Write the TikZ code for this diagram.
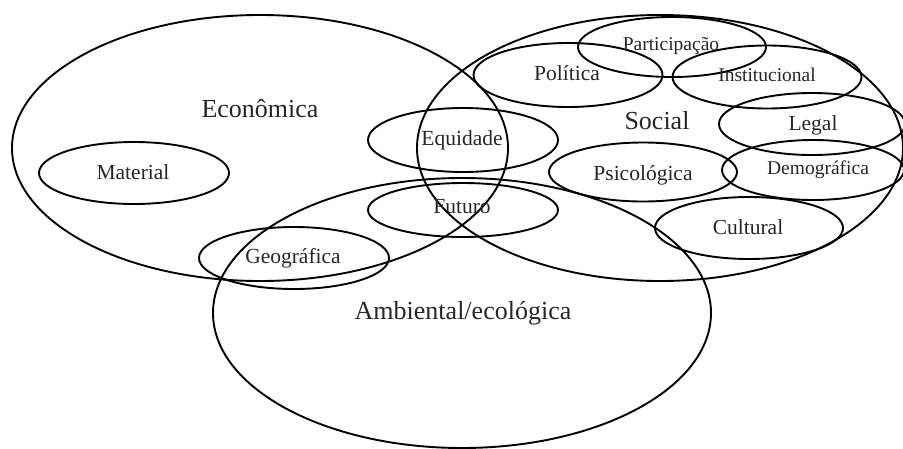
\documentclass[tikz,border=0pt]{standalone}
\usepackage{fontspec}
\setmainfont{Liberation Serif}
\usetikzlibrary{shapes.geometric}
\tikzset{
  ring/.style={draw=black, line width=1.9pt, ellipse, inner sep=0pt, fill=none},
  lbl/.style={inner sep=0pt, text height=0.66em, text depth=0pt, anchor=center, text=black!85, yshift=-4.5pt},
  bigtxt/.style={lbl, font=\fontsize{26}{28}\selectfont},
  midtxt/.style={lbl, font=\fontsize{21.5}{24}\selectfont},
  smalltxt/.style={lbl, font=\fontsize{19.5}{22}\selectfont},
}
\begin{document}
\begin{tikzpicture}[x=1pt,y=-1pt]
\useasboundingbox (0,0) rectangle (903,448);
% big ellipses
\node[ring, minimum width=496pt, minimum height=266pt] (econ) at (260,148) {};
\node[ring, minimum width=486pt, minimum height=266pt] (social) at (660,148) {};
\node[ring, minimum width=498pt, minimum height=270pt] (amb) at (462,313) {};
% small ellipses
\node[ring, minimum width=190pt, minimum height=62pt] (material) at (134,173) {};
\node[ring, minimum width=190pt, minimum height=64pt] (equidade) at (463,140) {};
\node[ring, minimum width=190pt, minimum height=54pt] (futuro) at (463,210) {};
\node[ring, minimum width=190pt, minimum height=62pt] (geografica) at (294,258) {};
\node[ring, minimum width=188pt, minimum height=60pt] (participacao) at (672,47) {};
\node[ring, minimum width=189pt, minimum height=64pt] (politica) at (568,75) {};
\node[ring, minimum width=189pt, minimum height=63pt] (institucional) at (767,77) {};
\node[ring, minimum width=186pt, minimum height=62pt] (legal) at (812,124) {};
\node[ring, minimum width=188pt, minimum height=59pt] (psicologica) at (643,172) {};
\node[ring, minimum width=182pt, minimum height=60pt] (demografica) at (813,170) {};
\node[ring, minimum width=188pt, minimum height=62pt] (cultural) at (749,228) {};
% labels
\node[bigtxt] (teconomica) at (260,110) {Econômica};
\node[bigtxt] (tsocial) at (657,122) {Social};
\node[bigtxt] (tambiental) at (463,312) {Ambiental/ecológica};
\node[midtxt] (tmaterial) at (133,172) {Material};
\node[midtxt] (tequidade) at (462,138) {Equidade};
\node[midtxt] (tfuturo) at (462,206) {Futuro};
\node[midtxt] (tgeografica) at (293,256) {Geográfica};
\node[smalltxt] (tparticipacao) at (671,43) {Participação};
\node[midtxt] (tpolitica) at (567,73) {Política};
\node[smalltxt] (tinstitucional) at (767,74) {Institucional};
\node[midtxt] (tlegal) at (813,123) {Legal};
\node[midtxt] (tpsicologica) at (643,173) {Psicológica};
\node[smalltxt] (tdemografica) at (818,167) {Demográfica};
\node[midtxt] (tcultural) at (748,227) {Cultural};
\end{tikzpicture}
\end{document}
